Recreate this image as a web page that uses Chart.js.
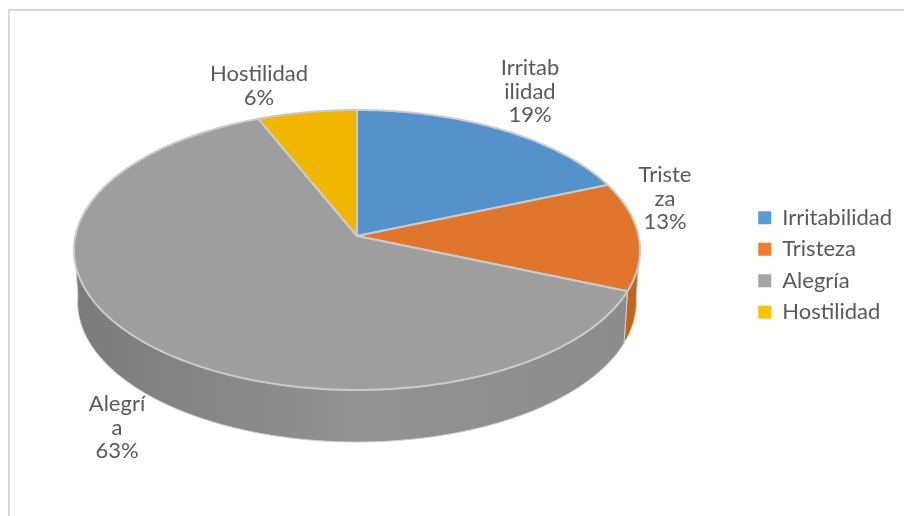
<!DOCTYPE html>
<html>
<head>
<meta charset="utf-8">
<script src="https://cdn.jsdelivr.net/npm/chart.js@4"></script>
<style>
    html, body { margin: 0; padding: 0; background: #fff; overflow: hidden; }
    #frame { position: absolute; left: 8px; top: 9px; width: 896px; height: 507px; border-left: 2px solid #d9d9d9; border-top: 2px solid #d9d9d9; }
    #chart { position: absolute; left: 0; top: 0; }
</style>
</head>
<body>
<div id="frame"></div>
<canvas id="chart" width="904" height="516"></canvas>
<script>
const categories = ['Irritabilidad', 'Tristeza', 'Alegría', 'Hostilidad'];
const counts = [3, 2, 10, 1];
const legendColors = ['#5B9BD5', '#ED7D31', '#A5A5A5', '#FFC000'];
const faceColors = ['#5592CA', '#E0752E', '#9E9E9E', '#F2B600'];
// etiquetas partidas como en el original
const labelLines = [['Irritab', 'ilidad'], ['Triste', 'za'], ['Alegrí', 'a'], ['Hostilidad']];

const FONT = '22px Lato';
const TEXT_COLOR = '#595959';

// disco superior e inferior, con perspectiva
const top3d = { cx: 357, cy: 236, a: 281.6, b: 138.6 };
const bottom3d = { cx: 357, cy: 288, a: 278, b: 138.6 };
const PERSP = 0.1;
const SIDE_START = 4 * Math.PI / 180;
const SIDE_END = 177 * Math.PI / 180;

// centro de cada etiqueta y altura de la primera línea
const labelPos = [
    { x: 530, y: 68 },
    { x: 665, y: 175 },
    { x: 117, y: 404 },
    { x: 259, y: 74 }
];
const LINE_H = 23.5;

function project(disc, angle) {
    const u = Math.cos(angle), v = Math.sin(angle);
    const w = 1 - PERSP * v;
    return { x: disc.cx + disc.a * u / w, y: disc.cy + disc.b * v / w };
}

function traceRim(ctx, disc, from, to) {
    const steps = Math.max(2, Math.ceil(Math.abs(to - from) / 0.01));
    for (let i = 0; i <= steps; i++) {
        const p = project(disc, from + (to - from) * i / steps);
        ctx.lineTo(p.x, p.y);
    }
}

function drawSidePart(ctx, from, to, fill) {
    ctx.beginPath();
    traceRim(ctx, top3d, from, to);
    traceRim(ctx, bottom3d, to, from);
    ctx.closePath();
    ctx.fillStyle = fill;
    ctx.fill();
    ctx.strokeStyle = '#cfcfcf';
    ctx.lineWidth = 1;
    ctx.stroke();
}

const pie3dPlugin = {
    id: 'pie3d',
    beforeDatasetDraw(chart, args) {
        const ctx = chart.ctx;
        const arcs = args.meta.data;
        const total = counts.reduce((a, b) => a + b, 0);

        ctx.save();
        ctx.lineJoin = 'round';

        // lateral
        const grad = ctx.createLinearGradient(75, 0, 640, 0);
        grad.addColorStop(0, '#7B7B7B');
        grad.addColorStop(0.5, '#929292');
        grad.addColorStop(1, '#8C8C8C');
        const orangeSide = arcs[1];
        const grayStart = arcs[2].startAngle;
        drawSidePart(ctx, SIDE_START, Math.min(orangeSide.endAngle, SIDE_END), '#C2661F');
        drawSidePart(ctx, grayStart, SIDE_END, grad);

        // cara superior
        arcs.forEach((arc, i) => {
            ctx.beginPath();
            ctx.moveTo(top3d.cx, top3d.cy);
            traceRim(ctx, top3d, arc.startAngle, arc.endAngle);
            ctx.closePath();
            ctx.fillStyle = faceColors[i];
            ctx.fill();
            ctx.strokeStyle = '#CBCBCB';
            ctx.lineWidth = 2;
            ctx.stroke();
        });

        // etiquetas
        ctx.font = FONT;
        ctx.fillStyle = TEXT_COLOR;
        ctx.textAlign = 'center';
        ctx.textBaseline = 'middle';
        labelLines.forEach((lines, i) => {
            const pct = Math.round(counts[i] / total * 100) + '%';
            lines.concat(pct).forEach((line, n) => {
                ctx.fillText(line, labelPos[i].x, labelPos[i].y + n * LINE_H);
            });
        });
        ctx.restore();
        return false;
    }
};

new Chart(document.getElementById('chart'), {
    type: 'pie',
    data: {
        labels: categories,
        datasets: [{
            data: counts,
            backgroundColor: legendColors,
            borderWidth: 0
        }]
    },
    options: {
        responsive: false,
        animation: false,
        layout: { padding: { top: 14, right: 2 } },
        plugins: {
            tooltip: { enabled: false },
            legend: {
                position: 'right',
                labels: {
                    boxWidth: 13,
                    boxHeight: 13,
                    padding: 9.5,
                    color: TEXT_COLOR,
                    font: { family: 'Lato', size: 22 }
                }
            }
        }
    },
    plugins: [pie3dPlugin]
});
</script>
</body>
</html>
